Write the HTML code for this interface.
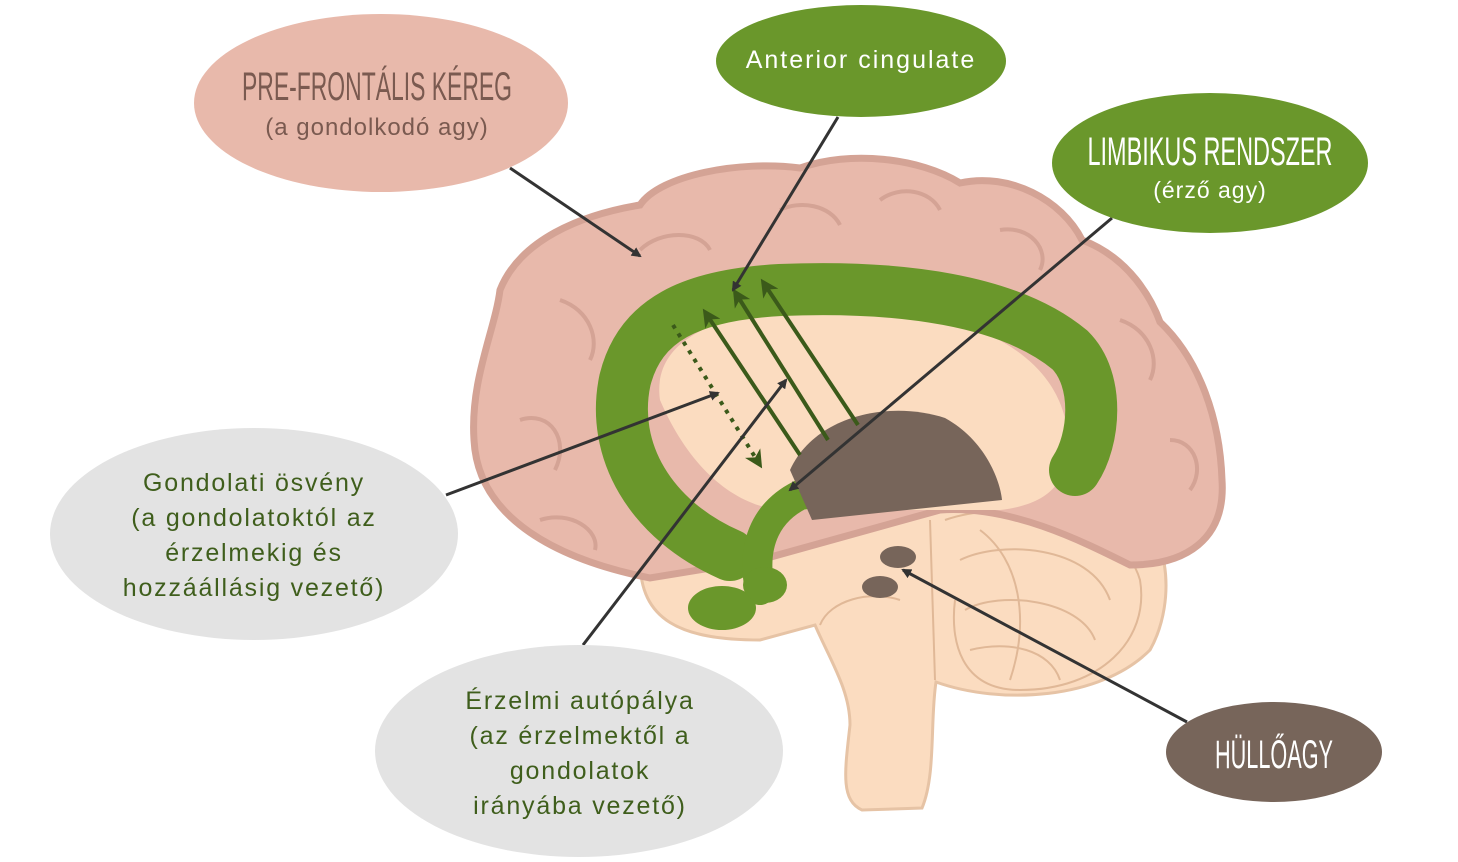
<!DOCTYPE html>
<html><head><meta charset="utf-8"><style>
html,body{margin:0;padding:0;background:#fff;width:1458px;height:862px;overflow:hidden}
svg{display:block}
.t{font-family:"Liberation Sans",sans-serif}
</style></head><body>
<svg width="1458" height="862" viewBox="0 0 1458 862">
<defs>
<marker id="ah" markerWidth="10" markerHeight="10" refX="8" refY="5" orient="auto" markerUnits="userSpaceOnUse" viewBox="0 0 10 10"><path d="M0,0 L10,5 L0,10 Z" fill="#333"/></marker>
<marker id="ahd" markerWidth="18" markerHeight="18" refX="14" refY="9" orient="auto" markerUnits="userSpaceOnUse" viewBox="0 0 18 18"><path d="M0,0 L18,9 L0,18 L5,9 Z" fill="#3b5a1a"/></marker>
</defs>
<path d="M640,560 C640,620 680,640 760,640 L815,625 C830,660 850,690 850,725 C845,770 840,800 862,810 L922,808 C936,775 930,720 936,682 C1000,705 1100,700 1150,650 C1178,600 1170,520 1120,500 C1050,480 960,495 900,505 Z" fill="#fbdcc0" stroke="#e6c3a5" stroke-width="3"/>
<path d="M945,520 C1000,500 1120,510 1140,580 C1150,640 1100,690 1020,690 C960,690 950,640 955,600" fill="none" stroke="#e0b897" stroke-width="2"/>
<path d="M960,560 C1000,540 1090,545 1110,600 M965,610 C1000,590 1080,600 1095,640 M970,650 C1010,640 1050,650 1060,680 M980,530 C1020,560 1030,620 1010,680" fill="none" stroke="#e0b897" stroke-width="2"/>
<path d="M930,520 L935,680 M820,625 C830,600 870,590 900,600" fill="none" stroke="#e0b897" stroke-width="2"/>
<path d="M650,578 C560,560 478,520 474,440 C470,380 495,330 500,290 C520,240 580,215 640,205 C660,175 740,160 800,168 C850,150 920,158 960,183 C1010,172 1062,200 1082,240 C1130,258 1152,300 1160,322 C1200,360 1220,420 1222,480 C1226,540 1185,565 1130,565 C1080,540 1010,505 940,510 L760,560 Z" fill="#e8b9ab" stroke="#d4a395" stroke-width="7"/>
<path d="M560,300 C590,310 600,340 590,360 M520,420 C550,410 570,440 555,470 M640,250 C660,230 700,230 710,250 M880,200 C900,185 930,190 940,210 M1000,230 C1030,225 1050,250 1040,270 M1120,320 C1150,330 1160,360 1150,380 M1170,440 C1195,440 1205,470 1190,490 M780,210 C800,200 830,205 840,225 M540,520 C570,510 600,530 595,550" fill="none" stroke="#d4a395" stroke-width="4"/>
<path d="M660,400 C650,330 740,305 850,308 C990,310 1065,365 1068,440 C1070,485 1045,505 1000,510 L780,510 C735,505 690,470 660,400 Z" fill="#fbdcc0"/>
<path d="M730,555 C650,520 610,450 625,380 C640,320 690,295 780,290 C900,285 1010,300 1070,350 C1100,380 1095,440 1075,470" fill="none" stroke="#6a972b" stroke-width="52" stroke-linecap="round"/>
<path d="M760,590 C750,540 770,510 800,495 L830,492" fill="none" stroke="#6a972b" stroke-width="30" stroke-linecap="round"/>
<ellipse cx="722" cy="608" rx="34" ry="22" fill="#6a972b"/>
<ellipse cx="765" cy="585" rx="22" ry="18" fill="#6a972b"/>
<path d="M790,470 C815,415 890,400 945,418 C985,440 1000,480 1002,500 L812,520 Z" fill="#77655a"/>
<ellipse cx="898" cy="557" rx="18" ry="11" fill="#77655a"/>
<ellipse cx="880" cy="587" rx="18" ry="11" fill="#77655a"/>
<line x1="800" y1="455" x2="705" y2="312" stroke="#3b5a1a" stroke-width="4" marker-end="url(#ahd)"/>
<line x1="828" y1="440" x2="735" y2="292" stroke="#3b5a1a" stroke-width="4" marker-end="url(#ahd)"/>
<line x1="858" y1="425" x2="763" y2="282" stroke="#3b5a1a" stroke-width="4" marker-end="url(#ahd)"/>
<line x1="673" y1="325" x2="760" y2="465" stroke="#3b5a1a" stroke-width="4" stroke-dasharray="4,6" marker-end="url(#ahd)"/>
<g stroke="#333" stroke-width="3" fill="none">
<line x1="510" y1="168" x2="640" y2="256" marker-end="url(#ah)"/>
<line x1="838" y1="117" x2="733" y2="290" marker-end="url(#ah)"/>
<line x1="1112" y1="218" x2="790" y2="490" marker-end="url(#ah)"/>
<line x1="446" y1="495" x2="718" y2="393" marker-end="url(#ah)"/>
<line x1="583" y1="645" x2="786" y2="380" marker-end="url(#ah)"/>
<line x1="1187" y1="722" x2="903" y2="570" marker-end="url(#ah)"/>
</g>
<ellipse cx="381" cy="103" rx="187" ry="89" fill="#e8b9ab"/>
<ellipse cx="861" cy="61" rx="145" ry="56" fill="#6a972b"/>
<ellipse cx="1210" cy="163" rx="158" ry="70" fill="#6a972b"/>
<ellipse cx="254" cy="534" rx="204" ry="106" fill="#e3e3e3"/>
<ellipse cx="579" cy="751" rx="204" ry="106" fill="#e3e3e3"/>
<ellipse cx="1274" cy="752" rx="108" ry="50" fill="#77655a"/>
<g class="t" text-anchor="middle">
<text x="377" y="100" font-size="40" fill="#7a5a50" textLength="270" lengthAdjust="spacingAndGlyphs">PRE-FRONTÁLIS KÉREG</text>
<text x="377" y="135" font-size="24" fill="#7a5a50" letter-spacing="1">(a gondolkodó agy)</text>
<text x="861" y="68" font-size="25" fill="#fff" letter-spacing="2">Anterior cingulate</text>
<text x="1210" y="165" font-size="40" fill="#fff" textLength="245" lengthAdjust="spacingAndGlyphs">LIMBIKUS RENDSZER</text>
<text x="1210" y="198" font-size="23" fill="#fff" letter-spacing="1">(érző agy)</text>
<text x="1274" y="768" font-size="40" fill="#fff" textLength="118" lengthAdjust="spacingAndGlyphs">HÜLLŐAGY</text>
<g font-size="25" fill="#3f5e1c" letter-spacing="1.8">
<text x="254" y="491">Gondolati ösvény</text>
<text x="254" y="526">(a gondolatoktól az</text>
<text x="254" y="561">érzelmekig és</text>
<text x="254" y="596">hozzáállásig vezető)</text>
<text x="580" y="709">Érzelmi autópálya</text>
<text x="580" y="744">(az érzelmektől a</text>
<text x="580" y="779">gondolatok</text>
<text x="580" y="814">irányába vezető)</text>
</g>
</g>
</svg>
</body></html>
